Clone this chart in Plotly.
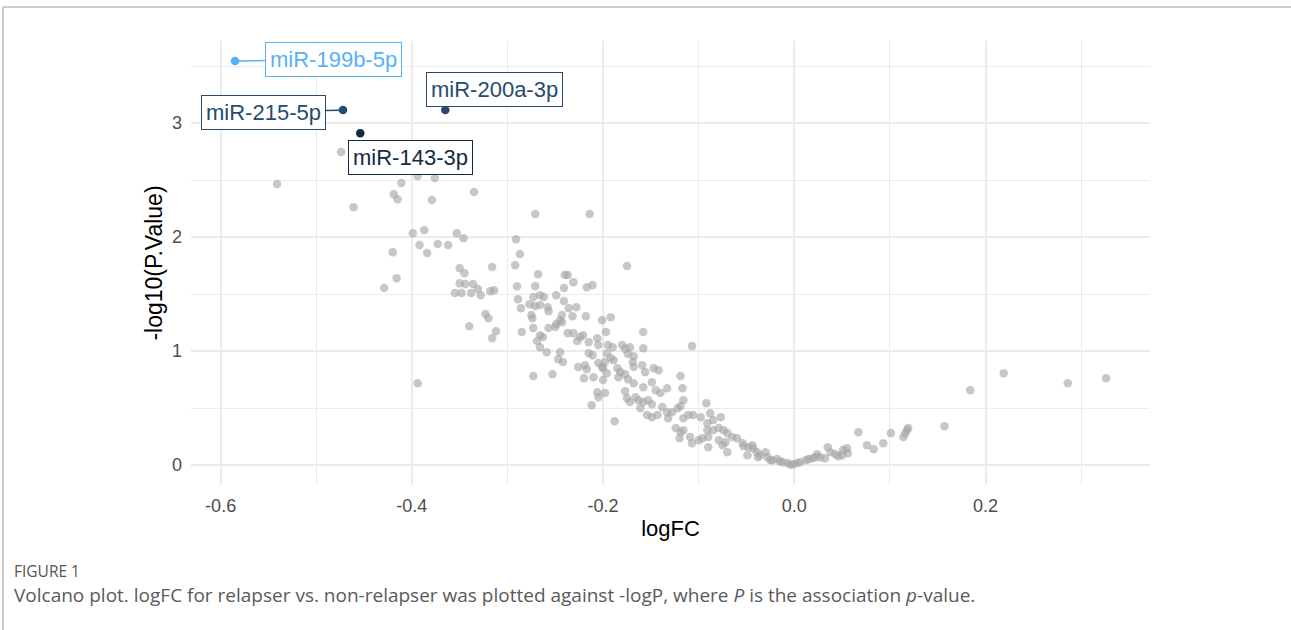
import plotly.graph_objects as go

# ---- data ----
logFC = [
 -0.541,-0.474,-0.461,-0.411,-0.419,-0.415,-0.394,-0.376,-0.379,-0.335,
 -0.399,-0.387,-0.392,-0.384,-0.373,-0.362,-0.353,-0.346,-0.420,-0.416,
 -0.429,-0.394,-0.350,-0.345,-0.350,-0.344,-0.336,-0.331,-0.316,-0.355,
 -0.348,-0.338,-0.328,-0.318,-0.314,-0.323,-0.320,-0.340,-0.312,-0.316,
 -0.271,-0.214,-0.291,-0.287,-0.292,-0.268,-0.240,-0.237,-0.231,-0.175,
 -0.290,-0.271,-0.241,-0.217,-0.211,-0.249,-0.273,-0.266,-0.262,-0.289,
 -0.241,-0.277,-0.271,-0.266,-0.258,-0.286,-0.257,-0.236,-0.228,-0.275,
 -0.274,-0.243,-0.232,-0.218,-0.201,-0.192,-0.245,-0.249,-0.285,-0.273,
 -0.266,-0.257,-0.243,-0.269,-0.266,-0.259,-0.237,-0.231,-0.224,-0.221,
 -0.215,-0.206,-0.205,-0.197,-0.227,-0.245,-0.247,-0.242,-0.215,-0.211,
 -0.205,-0.196,-0.192,-0.195,-0.190,-0.226,-0.219,-0.217,-0.273,-0.253,
 -0.220,-0.210,-0.200,-0.200,-0.196,-0.206,-0.205,-0.198,-0.212,-0.188,
 -0.158,-0.158,-0.107,-0.180,-0.177,-0.172,-0.174,-0.168,-0.169,-0.168,
 -0.185,-0.182,-0.184,-0.177,-0.174,-0.168,-0.177,-0.175,-0.172,-0.166,
 -0.163,-0.263,-0.250,-0.201,-0.189,-0.198,-0.159,-0.156,-0.147,-0.142,
 -0.119,-0.117,-0.116,-0.133,-0.158,-0.149,-0.145,-0.140,-0.158,-0.153,
 -0.149,-0.161,-0.154,-0.149,-0.143,-0.138,-0.133,-0.128,-0.122,-0.119,
 -0.132,-0.116,-0.111,-0.106,-0.098,-0.092,-0.124,-0.119,-0.116,-0.120,
 -0.109,-0.107,-0.100,-0.088,-0.085,-0.077,-0.091,-0.091,-0.085,-0.079,
 -0.074,-0.070,-0.096,-0.090,-0.090,-0.079,-0.072,-0.065,-0.060,-0.070,
 -0.075,-0.054,-0.048,-0.043,-0.044,-0.049,-0.039,-0.036,-0.030,-0.028,
 -0.025,-0.053,-0.038,-0.023,-0.018,-0.015,-0.012,-0.007,-0.004,-0.001,
  0.003, 0.006, 0.012, 0.015, 0.019, 0.022, 0.024, 0.027, 0.032, 0.035,
  0.038, 0.043, 0.046, 0.050, 0.051, 0.055, 0.056, 0.067, 0.076, 0.083,
  0.093, 0.101, 0.114, 0.116, 0.118, 0.119, 0.157, 0.184, 0.219, 0.286,
  0.326,
]
neglog10P = [
 2.465,2.746,2.263,2.474,2.377,2.333,2.535,2.518,2.325,2.395,
 2.035,2.061,1.930,1.860,1.939,1.930,2.035,1.991,1.868,1.640,
 1.553,0.719,1.728,1.684,1.596,1.588,1.588,1.544,1.737,1.509,
 1.509,1.509,1.491,1.526,1.535,1.325,1.289,1.219,1.175,1.114,
 2.202,2.202,1.982,1.851,1.754,1.675,1.667,1.667,1.605,1.746,
 1.570,1.570,1.553,1.561,1.579,1.491,1.474,1.491,1.474,1.456,
 1.439,1.412,1.395,1.404,1.386,1.377,1.351,1.377,1.386,1.316,
 1.289,1.316,1.307,1.307,1.272,1.298,1.272,1.237,1.167,1.202,
 1.140,1.202,1.254,1.088,1.035,0.991,1.158,1.158,1.123,1.140,
 1.079,1.114,1.053,1.167,1.088,0.991,0.930,0.904,0.982,0.965,
 0.895,0.982,0.939,1.053,1.035,0.860,0.877,0.842,0.781,0.798,
 0.763,0.772,0.746,0.851,0.807,0.640,0.596,0.632,0.526,0.386,
 1.167,1.026,1.044,1.053,1.018,1.035,0.974,0.956,0.904,0.860,
 0.851,0.816,0.772,0.798,0.754,0.719,0.649,0.588,0.553,0.596,
 0.570,1.123,1.211,0.860,0.921,0.904,0.877,0.816,0.851,0.833,
 0.781,0.675,0.570,0.675,0.684,0.728,0.658,0.632,0.553,0.570,
 0.535,0.500,0.439,0.421,0.439,0.509,0.465,0.465,0.500,0.518,
 0.412,0.412,0.439,0.439,0.421,0.544,0.325,0.289,0.307,0.237,
 0.246,0.193,0.219,0.456,0.395,0.421,0.368,0.307,0.307,0.325,
 0.307,0.281,0.237,0.246,0.158,0.219,0.202,0.246,0.237,0.114,
 0.175,0.193,0.158,0.149,0.175,0.088,0.114,0.088,0.114,0.070,
 0.044,0.167,0.070,0.044,0.053,0.035,0.026,0.018,0.003,0.009,
 0.018,0.026,0.044,0.053,0.061,0.070,0.096,0.070,0.061,0.158,
 0.114,0.096,0.079,0.088,0.132,0.149,0.105,0.289,0.175,0.140,
 0.193,0.281,0.246,0.281,0.307,0.325,0.342,0.658,0.807,0.719,
 0.763,
]

hl_names = ["miR-199b-5p", "miR-215-5p", "miR-143-3p", "miR-200a-3p"]
hl_logFC = [-0.585, -0.472, -0.454, -0.365]
hl_neglog10P = [3.544, 3.114, 2.912, 3.114]
hl_colors = ["#56B1F7", "#264B6E", "#132B43", "#264B6E"]

x_tickvals = [-0.6, -0.4, -0.2, 0.0, 0.2]
x_ticktext = ["-0.6", "-0.4", "-0.2", "0.0", "0.2"]
y_tickvals = [0, 1, 2, 3]
y_ticktext = ["0", "1", "2", "3"]

FONT = "Liberation Sans, Arial, sans-serif"
GRID = "#ebebeb"

fig = go.Figure()
fig.add_trace(go.Scatter(
    x=logFC, y=neglog10P, mode="markers",
    marker=dict(size=8.5, color="rgba(165,165,165,0.62)", line=dict(width=0)),
    hoverinfo="skip", showlegend=False,
))
fig.add_trace(go.Scatter(
    x=hl_logFC, y=hl_neglog10P, mode="markers",
    marker=dict(size=8.5, color=hl_colors, line=dict(width=0)),
    hoverinfo="skip", showlegend=False,
))

# label placement (pixel offsets from the point), arrow shown or not
label_style = [
    dict(ax=99, ay=-2, arrow=True),
    dict(ax=-80, ay=2, arrow=True),
    dict(ax=50, ay=24, arrow=False),
    dict(ax=49, ay=-21, arrow=False),
]
for name, xv, yv, col, st in zip(hl_names, hl_logFC, hl_neglog10P, hl_colors, label_style):
    common = dict(
        x=xv, y=yv, xref="x", yref="y", text=name,
        font=dict(family=FONT, size=22, color=col),
        bgcolor="white", bordercolor=col, borderwidth=1, borderpad=4,
    )
    if st["arrow"]:
        fig.add_annotation(**common, showarrow=True, ax=st["ax"], ay=st["ay"],
                           axref="pixel", ayref="pixel", arrowhead=0,
                           arrowwidth=1.5, arrowcolor=col, standoff=3)
    else:
        fig.add_annotation(**common, showarrow=False,
                           xshift=st["ax"], yshift=-st["ay"])

# caption
fig.add_annotation(x=-0.1867, y=-0.1937, xref="paper", yref="paper",
                   xanchor="left", yanchor="middle", showarrow=False,
                   text="FIGURE 1",
                   font=dict(family="Open Sans, sans-serif", size=15.5, color="#555555"))
fig.add_annotation(x=-0.1867, y=-0.2477, xref="paper", yref="paper",
                   xanchor="left", yanchor="middle", showarrow=False,
                   text="Volcano plot. logFC for relapser vs. non-relapser was plotted against -logP, where <i>P</i> is the association <i>p</i>-value.",
                   font=dict(family="Open Sans, sans-serif", size=19, color="#5a5a5a"))

# page frame (top and left rules)
fig.add_shape(type="line", xref="paper", yref="paper", x0=-0.196, x1=1.2, y0=1.0766, y1=1.0766,
              line=dict(color="#bbbbbb", width=1.5))
fig.add_shape(type="line", xref="paper", yref="paper", x0=-0.196, x1=-0.196, y0=1.0766, y1=-0.33,
              line=dict(color="#bbbbbb", width=1.5))

fig.update_layout(
    width=1291, height=630,
    margin=dict(l=191, r=141, t=41, b=145),
    paper_bgcolor="white", plot_bgcolor="white",
    font=dict(family=FONT),
    xaxis=dict(
        range=[-0.631, 0.372], tickvals=x_tickvals, ticktext=x_ticktext,
        showgrid=True, gridcolor=GRID, gridwidth=1.6, zeroline=False, showline=False,
        ticks="", ticklabelstandoff=8,
        tickfont=dict(family=FONT, size=18, color="#4d4d4d"),
        minor=dict(tickvals=[-0.5, -0.3, -0.1, 0.1, 0.3], showgrid=True, gridcolor=GRID, gridwidth=1.0),
        title=dict(text="logFC", font=dict(family=FONT, size=22, color="black"), standoff=5),
    ),
    yaxis=dict(
        range=[-0.174, 3.72], tickvals=y_tickvals, ticktext=y_ticktext,
        showgrid=True, gridcolor=GRID, gridwidth=1.6, zeroline=False, showline=False,
        ticks="", ticklabelstandoff=8,
        tickfont=dict(family=FONT, size=18, color="#4d4d4d"),
        minor=dict(tickvals=[0.5, 1.5, 2.5, 3.5], showgrid=True, gridcolor=GRID, gridwidth=1.0),
        title=dict(text="-log10(P.Value)", font=dict(family=FONT, size=23, color="black"), standoff=2),
    ),
)

fig.write_html("out.html")
